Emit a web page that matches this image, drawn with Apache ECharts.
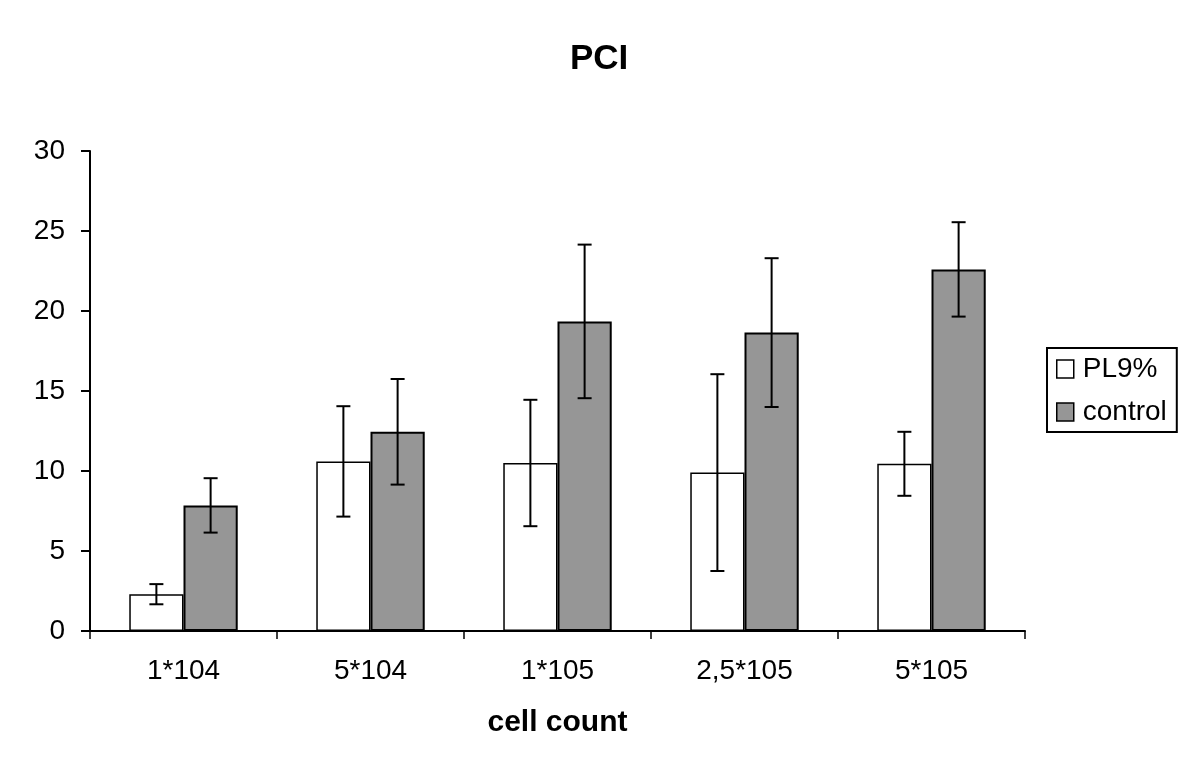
<!DOCTYPE html>
<html>
<head>
<meta charset="utf-8">
<script src="https://cdn.jsdelivr.net/npm/echarts@6/dist/echarts.min.js"></script>
<style>
html,body{margin:0;padding:0;background:#fff;}
#chart{width:1200px;height:780px;}
</style>
</head>
<body>
<div id="chart"></div>
<script>
const categories = ['1*104', '5*104', '1*105', '2,5*105', '5*105'];
const plValues   = [2.3, 10.6, 10.5, 9.9, 10.45];
const plErrors   = [0.63, 3.45, 3.95, 6.15, 2.0];
const ctrlValues = [7.85, 12.45, 19.35, 18.65, 22.6];
const ctrlErrors = [1.7, 3.3, 4.8, 4.65, 2.95];
const yTicks = { min: 0, max: 30, interval: 5 };

const FONT = 'Liberation Sans, Arial, sans-serif';
const BAR_FRAC = 0.29;

function errorSeries(name, values, errors, side) {
  return {
    name: name,
    type: 'custom',
    z: 5,
    silent: true,
    data: values.map((v, i) => [i, v, errors[i]]),
    renderItem: function (params, api) {
      const i = api.value(0), v = api.value(1), e = api.value(2);
      const band = api.size([1, 0])[0];
      const dx = side * band * BAR_FRAC / 2;
      const top = api.coord([i, v + e]);
      const bot = api.coord([i, v - e]);
      const x = top[0] + dx;
      const cap = 7;
      const style = { stroke: '#000', lineWidth: 2 };
      return {
        type: 'group',
        children: [
          { type: 'line', shape: { x1: x, y1: top[1], x2: x, y2: bot[1] }, style: style },
          { type: 'line', shape: { x1: x - cap, y1: top[1], x2: x + cap, y2: top[1] }, style: style },
          { type: 'line', shape: { x1: x - cap, y1: bot[1], x2: x + cap, y2: bot[1] }, style: style }
        ]
      };
    }
  };
}

const chart = echarts.init(document.getElementById('chart'), null, { renderer: 'canvas' });
chart.setOption({
  animation: false,
  backgroundColor: '#fff',
  title: {
    text: 'PCI',
    left: 565,
    top: 37,
    textStyle: { fontFamily: FONT, fontSize: 35, fontWeight: 'bold', color: '#000' }
  },
  legend: {
    orient: 'vertical',
    left: 1047,
    top: 348,
    padding: [7, 10, 6, 9],
    itemGap: 15,
    itemWidth: 17,
    itemHeight: 18,
    borderColor: '#000',
    borderWidth: 2,
    icon: 'rect',
    textStyle: { fontFamily: FONT, fontSize: 28, color: '#000', lineHeight: 28, padding: [0, 0, 0, 4] },
    data: [
      { name: 'PL9%', itemStyle: { color: '#fff', borderColor: '#000', borderWidth: 1.5 } },
      { name: 'control', itemStyle: { color: '#969696', borderColor: '#000', borderWidth: 1.5 } }
    ]
  },
  grid: { left: 90, right: 175, top: 151, bottom: 149, containLabel: false },
  xAxis: {
    type: 'category',
    data: categories,
    boundaryGap: true,
    name: 'cell count',
    nameLocation: 'middle',
    nameGap: 77,
    nameTextStyle: { fontFamily: FONT, fontSize: 30, fontWeight: 'bold', color: '#000' },
    axisLine: { lineStyle: { color: '#000', width: 2 } },
    axisTick: { show: true, length: 8, lineStyle: { color: '#000', width: 1.5 } },
    axisLabel: { fontFamily: FONT, fontSize: 28, color: '#000', margin: 26 },
    splitLine: { show: false }
  },
  yAxis: {
    type: 'value',
    min: yTicks.min,
    max: yTicks.max,
    interval: yTicks.interval,
    axisLine: { show: true, lineStyle: { color: '#000', width: 2 } },
    axisTick: { show: true, length: 9, lineStyle: { color: '#000', width: 2 } },
    axisLabel: { fontFamily: FONT, fontSize: 28, color: '#000', margin: 25 },
    splitLine: { show: false }
  },
  series: [
    {
      name: 'PL9%',
      type: 'bar',
      data: plValues,
      barWidth: (BAR_FRAC * 100) + '%',
      barGap: '0%',
      itemStyle: { color: '#fff', borderColor: '#000', borderWidth: 1.5 }
    },
    {
      name: 'control',
      type: 'bar',
      data: ctrlValues,
      barWidth: (BAR_FRAC * 100) + '%',
      barGap: '0%',
      itemStyle: { color: '#969696', borderColor: '#000', borderWidth: 2 }
    },
    errorSeries('PL9% error', plValues, plErrors, -1),
    errorSeries('control error', ctrlValues, ctrlErrors, 1)
  ]
});
</script>
</body>
</html>
